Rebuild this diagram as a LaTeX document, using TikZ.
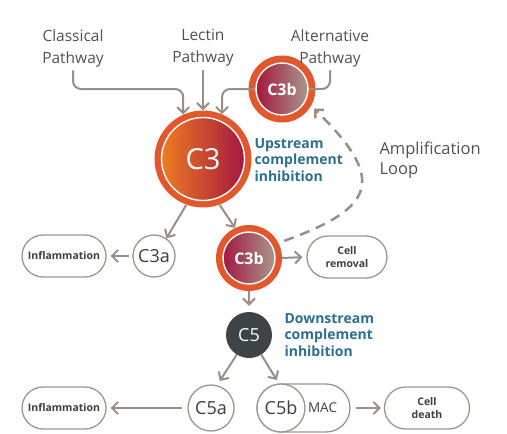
\documentclass[tikz,border=0pt]{standalone}
\usepackage{fontspec}
\setmainfont{Open Sans}
\usepackage{xcolor}
\usepackage{tikz}
\usetikzlibrary{positioning,arrows.meta}

\definecolor{ringorange}{HTML}{E2572B}
\definecolor{cthreeleft}{HTML}{EF7C22}
\definecolor{crimson}{HTML}{A3173F}
\definecolor{taupe}{HTML}{A8978D}
\definecolor{arrowgray}{HTML}{9A8F87}
\definecolor{linegray}{HTML}{9F958D}
\definecolor{textgray}{HTML}{3E3E3E}
\definecolor{inhibblue}{HTML}{2C6E91}
\definecolor{cfive}{HTML}{3E4347}

\begin{document}
\begin{tikzpicture}[x=1pt, y=-1pt,
    arr/.style={draw=arrowgray, line width=2pt, -{Straight Barb[length=6pt, width=12pt]}},
    ring/.style={circle, fill=ringorange, inner sep=0pt},
    core/.style={circle, draw=white, line width=1.4pt, inner sep=0pt, text=white},
    pill/.style={draw=linegray, line width=1.3pt, rounded corners=21pt, minimum width=84pt, minimum height=42pt, align=center, text=textgray, font=\fontsize{10.5}{13}\selectfont\bfseries},
    bubble/.style={circle, draw=linegray, line width=1.3pt, fill=white, inner sep=0pt, text=textgray, font=\fontsize{18}{18}\selectfont},
    pathlabel/.style={align=center, text=textgray!90, font=\fontsize{15.5}{22}\selectfont},
    inhibnote/.style={align=left, anchor=west, text=inhibblue, font=\fontsize{14}{16.5}\selectfont\bfseries}]
    \useasboundingbox (0,0) rectangle (507,434);

    \node[ring, minimum size=97pt] (C3) at (203,159) {};
    \node[ring, minimum size=67pt] (C3bt) at (282,89) {};
    \node[ring, minimum size=66pt] (C3bb) at (249,258) {};

    \node[pathlabel] (classical) at (73,48) {Classical\\Pathway};
    \node[pathlabel] (lectin) at (203,48) {Lectin\\Pathway};
    \node[pathlabel] (alternative) at (330,48) {Alternative\\Pathway};

    \draw[arr, rounded corners=8pt] (classical.south) |- (C3.114 |- C3bt) -- (C3.114);
    \draw[arr] (lectin.south) -- (C3.north);
    \draw[arr, rounded corners=8pt] (alternative.south) |- (C3bt.center) -| (C3.67);

    \node[core, minimum size=83pt, left color=cthreeleft, right color=crimson, font=\fontsize{29}{29}\selectfont] (C3core) at (C3) {C3};
    \node[core, minimum size=52pt, left color=crimson, right color=taupe, font=\fontsize{16}{16}\selectfont\bfseries] (C3btcore) at (C3bt) {C3b};
    \node[core, minimum size=52pt, left color=crimson, right color=taupe, font=\fontsize{16}{16}\selectfont\bfseries] (C3bbcore) at (C3bb) {C3b};

    \node[inhibnote] (upstream) at (251,160) {Upstream\\complement\\inhibition};
    \node[align=left, anchor=west, text=textgray!90, font=\fontsize{16.5}{20}\selectfont] (amplification) at (376,160) {Amplification\\Loop};

    \draw[arr, line width=2.5pt, dash pattern=on 10pt off 7pt, shorten <=6pt, shorten >=4pt]
        (C3bb.27) .. controls +(97,-35) and +(76,74) .. (C3bt.-30);

    \node[bubble, minimum size=42pt] (C3a) at (154,256) {C3a};
    \node[pill] (inflammationtop) at (64,256) {Inflammation};
    \node[pill, minimum width=80pt] (removal) at (347,257) {Cell\\removal};

    \draw[arr] (C3.250) -- (C3a.55);
    \draw[arr, shorten >=0pt] (C3.290) -- (C3bb.115);
    \draw[arr, shorten <=3pt, shorten >=4pt] (C3a.west) -- (inflammationtop.east);
    \draw[arr, shorten >=4pt] (C3bb.east) -- (removal.west);

    \node[circle, fill=cfive, minimum size=46pt, inner sep=0pt, text=white, font=\fontsize{18}{18}\selectfont] (C5) at (249,335) {C5};
    \node[inhibnote] (downstream) at (281,335) {Downstream\\complement\\inhibition};
    \draw[arr, shorten >=6pt] (C3bb.south) -- (C5.north);

    \node[bubble, minimum size=46pt] (C5a) at (211,408) {C5a};
    \node[pill, minimum width=93pt, minimum height=48pt, rounded corners=24pt, text width=67pt, inner xsep=13pt, align=right, font=\fontsize{13.5}{14}\selectfont] (MAC) at (303.5,408) {MAC};
    \node[bubble, minimum size=48pt] (C5b) at (281,408) {C5b};
    \node[pill] (inflammationbottom) at (64,408) {Inflammation};
    \node[pill, minimum width=85pt] (death) at (427,408) {Cell\\death};

    \draw[arr, shorten >=5pt] (C5.238) -- (C5a.75);
    \draw[arr, shorten >=4pt] (C5.302) -- (C5b.95);
    \draw[arr, shorten <=5pt, shorten >=4pt] (C5a.west) -- (inflammationbottom.east);
    \draw[arr, shorten <=5pt, shorten >=3pt] (MAC.east) -- (death.west);
\end{tikzpicture}
\end{document}
